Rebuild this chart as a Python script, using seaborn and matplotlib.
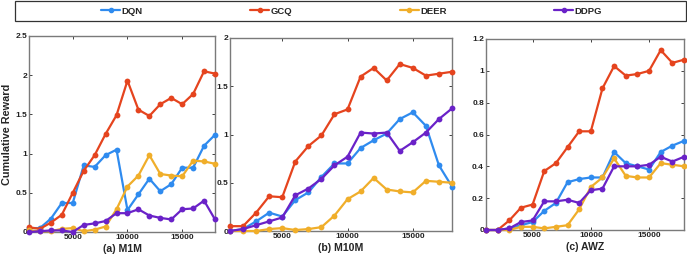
import numpy as np
import pandas as pd
import matplotlib.pyplot as plt
import seaborn as sns
from matplotlib.patches import Rectangle
from matplotlib.ticker import FuncFormatter

sns.set_theme(style="ticks")
plt.rcParams["font.family"] = ["Liberation Sans", "DejaVu Sans"]
plt.rcParams["font.weight"] = "bold"

# data
steps = list(range(1000, 19000, 1000))
methods = ["DQN", "GCQ", "DEER", "DDPG"]
colors = ["#2F8BEF", "#E5441E", "#F0AE2A", "#6A22C8"]

m1m_dqn = [0.05, 0.05, 0.17, 0.37, 0.37, 0.85, 0.83, 0.98, 1.05, 0.28, 0.48, 0.68, 0.52, 0.61, 0.82, 0.82, 1.10, 1.24]
m1m_gcq = [0.06, 0.04, 0.12, 0.22, 0.50, 0.78, 0.98, 1.25, 1.49, 1.93, 1.56, 1.48, 1.63, 1.71, 1.63, 1.76, 2.05, 2.02]
m1m_deer = [0.02, 0.01, 0.01, 0.04, 0.05, 0.01, 0.03, 0.07, 0.29, 0.58, 0.72, 0.98, 0.74, 0.72, 0.71, 0.91, 0.90, 0.87]
m1m_ddpg = [0.00, 0.01, 0.02, 0.02, 0.00, 0.09, 0.11, 0.14, 0.24, 0.24, 0.29, 0.21, 0.18, 0.16, 0.29, 0.30, 0.40, 0.16]

m10m_dqn = [0.00, 0.02, 0.10, 0.19, 0.15, 0.32, 0.40, 0.56, 0.70, 0.70, 0.86, 0.94, 1.01, 1.16, 1.23, 1.09, 0.68, 0.46]
m10m_gcq = [0.05, 0.05, 0.19, 0.36, 0.35, 0.72, 0.88, 0.99, 1.21, 1.26, 1.60, 1.69, 1.56, 1.73, 1.69, 1.61, 1.63, 1.65]
m10m_deer = [0.00, 0.00, 0.00, 0.02, 0.03, 0.01, 0.02, 0.04, 0.16, 0.33, 0.41, 0.55, 0.43, 0.41, 0.40, 0.52, 0.51, 0.50]
m10m_ddpg = [0.00, 0.02, 0.06, 0.10, 0.14, 0.37, 0.44, 0.54, 0.68, 0.77, 1.02, 1.01, 1.02, 0.83, 0.92, 1.02, 1.16, 1.27]

awz_dqn = [0.00, 0.00, 0.01, 0.03, 0.05, 0.12, 0.17, 0.30, 0.32, 0.33, 0.33, 0.49, 0.42, 0.40, 0.38, 0.49, 0.53, 0.56]
awz_gcq = [0.00, 0.00, 0.06, 0.14, 0.16, 0.37, 0.42, 0.52, 0.62, 0.62, 0.89, 1.03, 0.97, 0.98, 1.00, 1.13, 1.05, 1.07]
awz_deer = [0.00, 0.00, 0.00, 0.02, 0.02, 0.01, 0.02, 0.03, 0.13, 0.27, 0.33, 0.45, 0.34, 0.33, 0.33, 0.42, 0.41, 0.40]
awz_ddpg = [0.00, 0.00, 0.01, 0.05, 0.06, 0.18, 0.18, 0.19, 0.17, 0.25, 0.26, 0.40, 0.40, 0.40, 0.41, 0.46, 0.43, 0.46]

panels = [
    ("(a) M1M", [m1m_dqn, m1m_gcq, m1m_deer, m1m_ddpg], 2.5, 0.5),
    ("(b) M10M", [m10m_dqn, m10m_gcq, m10m_deer, m10m_ddpg], 2.0, 0.5),
    ("(c) AWZ", [awz_dqn, awz_gcq, awz_deer, awz_ddpg], 1.2, 0.2),
]

# axes boxes in pixels (left, right, top, bottom)
W, H = 687, 262
boxes = [(29, 215, 36, 232), (230, 452, 38, 231), (486, 684, 39, 230)]

fig = plt.figure(figsize=(W / 100, H / 100), dpi=100)
fmt = FuncFormatter(lambda v, p: "%g" % v)

for (title, series, ymax, ystep), (l, r, t, b) in zip(panels, boxes):
    ax = fig.add_axes([l / W, 1 - b / H, (r - l) / W, (b - t) / H])
    df = pd.DataFrame({
        "step": steps * len(methods),
        "reward": np.concatenate(series),
        "method": np.repeat(methods, len(steps)),
    })
    sns.lineplot(data=df, x="step", y="reward", hue="method", hue_order=methods,
                 palette=colors, marker="o", markersize=4.2, markeredgewidth=0,
                 linewidth=1.6, ax=ax, legend=False, clip_on=False)
    ax.set_xlim(1000, 18000)
    ax.set_ylim(0, ymax)
    ax.set_xticks([5000, 10000, 15000])
    ax.set_yticks(np.arange(0, ymax + 1e-9, ystep))
    ax.yaxis.set_major_formatter(fmt)
    ax.tick_params(direction="in", length=2.5, width=0.6, labelsize=6,
                   top=True, right=True, pad=1.5, colors="#222222")
    for s in ax.spines.values():
        s.set_color("#7a7a7a")
        s.set_linewidth(1.0)
        s.set_zorder(1)
    ax.set_xlabel(title, fontsize=7.6, fontweight="bold", labelpad=2)
    ax.set_ylabel("")
    for lab in ax.get_xticklabels() + ax.get_yticklabels():
        lab.set_fontweight("bold")
    if title.startswith("(a)"):
        ax.set_ylabel("Cumulative Reward", fontsize=7.8, fontweight="bold", labelpad=2)

# legend across the top, framed by a thin box
handles = [plt.Line2D([], [], color=c, marker="o", markersize=3, linewidth=1.6) for c in colors]
fig.legend(handles, methods, loc="center", bbox_to_anchor=(0.512, 1 - 11 / H),
           ncol=4, frameon=False, handlelength=2.0, handletextpad=0.15,
           columnspacing=11.4, prop={"weight": "bold", "size": 6.8})
fig.patches.append(Rectangle((15 / W, 1 - 21 / H), 671 / W, 20 / H, transform=fig.transFigure,
                             fill=False, edgecolor="#333333", linewidth=0.9))

fig.savefig("out.png", dpi=100)
